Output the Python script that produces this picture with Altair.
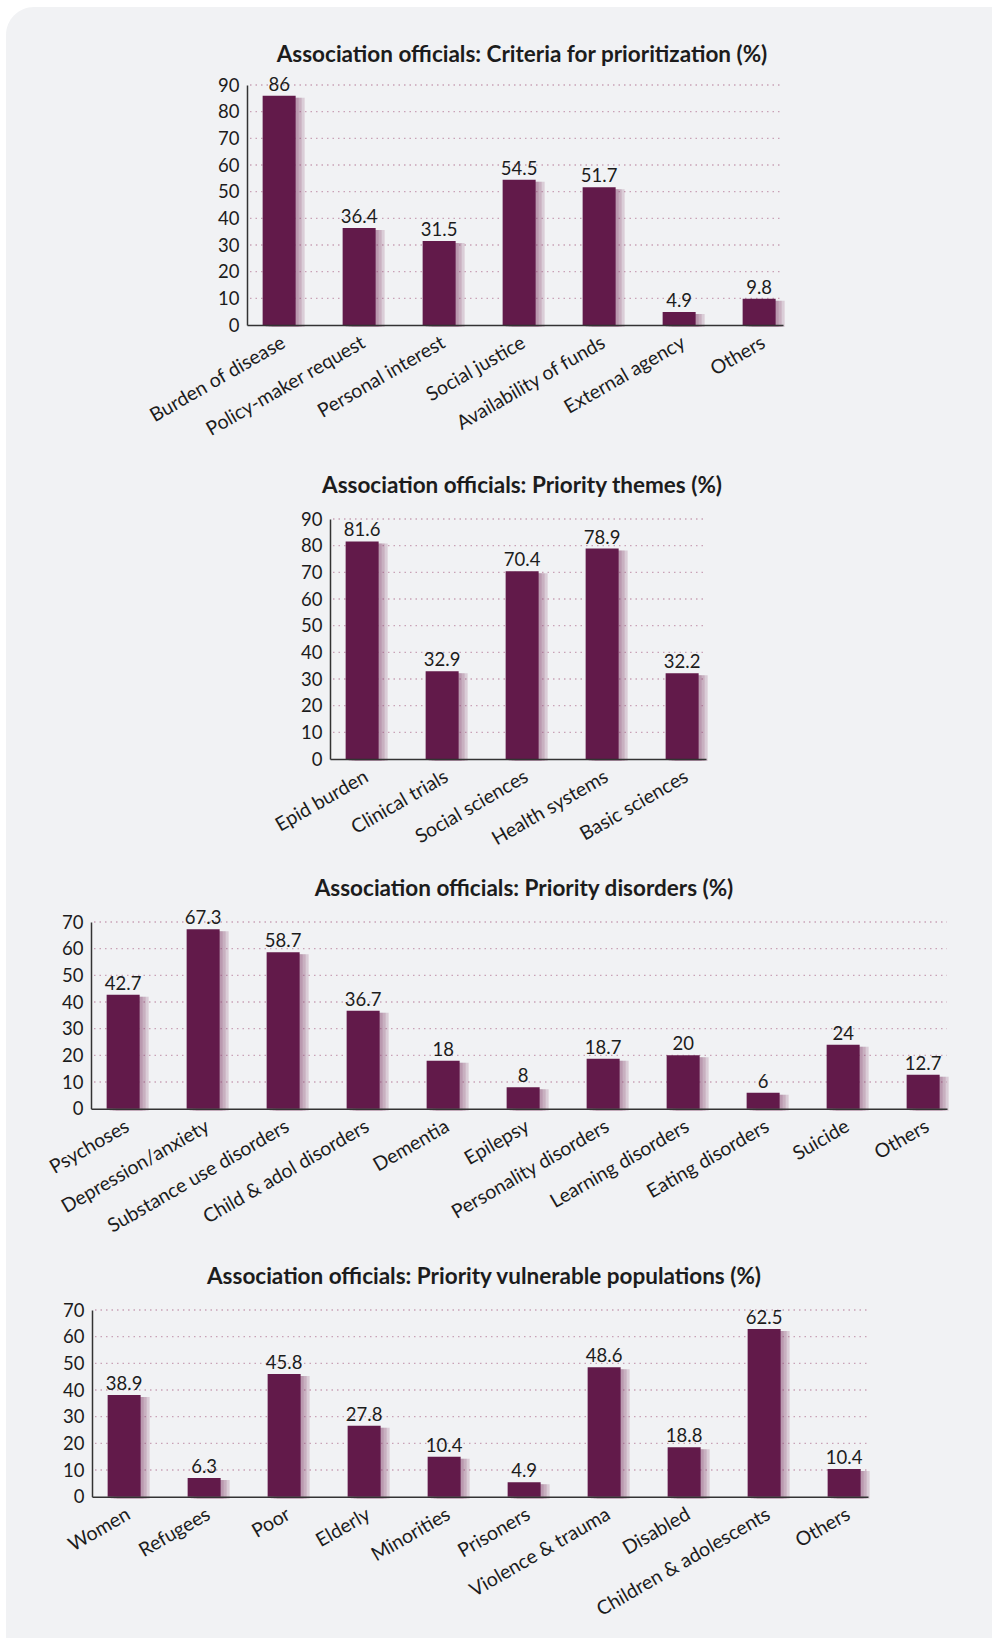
import altair as alt
import pandas as pd

# ---------------- data ----------------
crit_cats = ["Burden of disease", "Policy-maker request", "Personal interest", "Social justice",
             "Availability of funds", "External agency", "Others"]
crit_vals = [86, 36.4, 31.5, 54.5, 51.7, 4.9, 9.8]

theme_cats = ["Epid burden", "Clinical trials", "Social sciences", "Health systems", "Basic sciences"]
theme_vals = [81.6, 32.9, 70.4, 78.9, 32.2]

dis_cats = ["Psychoses", "Depression/anxiety", "Substance use disorders", "Child & adol disorders",
            "Dementia", "Epilepsy", "Personality disorders", "Learning disorders",
            "Eating disorders", "Suicide", "Others"]
dis_vals = [42.7, 67.3, 58.7, 36.7, 18, 8, 18.7, 20, 6, 24, 12.7]

pop_cats = ["Women", "Refugees", "Poor", "Elderly", "Minorities", "Prisoners",
            "Violence & trauma", "Disabled", "Children & adolescents", "Others"]
pop_labels = [38.9, 6.3, 45.8, 27.8, 10.4, 4.9, 48.6, 18.8, 62.5, 10.4]
# bar heights as drawn in the original figure (some differ from the printed labels)
pop_bars = [38.1, 7.0, 46.0, 26.6, 15.0, 5.4, 48.5, 18.5, 62.9, 10.4]

titles = ["Association officials: Criteria for prioritization (%)",
          "Association officials: Priority themes (%)",
          "Association officials: Priority disorders (%)",
          "Association officials: Priority vulnerable populations (%)"]

ticks_90 = [0, 10, 20, 30, 40, 50, 60, 70, 80, 90]
ticks_70 = [0, 10, 20, 30, 40, 50, 60, 70]

# ---------------- style ----------------
FONT = "Lato"
BAR = "#621a4a"
SHADOW = "#8a4a72"
GRID = "#c9a2b6"
AXIS = "#333333"
TEXT = "#1c1c1c"
BG = "#f1f2f4"
PX = 240 / 90.0      # pixels per percentage point
X0 = 20              # page x of every panel origin
W = 940


def panel(title, cats, bars, labels, ticks, left, right, top, next_top, title_cx, title_dy, card=False):
    ymax = ticks[-1]
    plot_h = ymax * PX
    height = next_top - top
    L = left - X0
    R = right - X0
    df = pd.DataFrame({"cat": cats, "bar": bars,
                       "label": [f"{v:g}" for v in labels]})
    xscale = alt.Scale(domain=cats, range=[L, R], paddingInner=0.5875,
                       paddingOuter=0.14375, align=0.68)
    yscale = alt.Scale(domain=[0, ymax], range=[plot_h, 0], nice=False, zero=True)
    xaxis = alt.Axis(title=None, labelAngle=330, labelAlign="right", labelBaseline="top",
                     labelPadding=8, labelFontSize=19.5, labelColor=TEXT, labelFont=FONT,
                     ticks=False, domainColor=AXIS, domainWidth=1.5, grid=False,
                     offset=plot_h - height, zindex=1, labelOverlap=False, labelLimit=400)
    yaxis = alt.Axis(title=None, values=ticks, labelFontSize=18.5, labelColor=TEXT, labelFont=FONT,
                     ticks=False, domainColor=AXIS, domainWidth=1.5, grid=False,
                     offset=-L, labelPadding=8, zindex=1, labelFlush=False)
    X = alt.X("cat:N", scale=xscale, sort=cats, axis=xaxis)

    layers = []
    if card:
        layers.append(
            alt.Chart(pd.DataFrame({"c": [0]})).mark_rect(color=BG, cornerRadiusTopLeft=28).encode(
                x=alt.value(6 - X0), x2=alt.value(992 - X0),
                y=alt.value(7 - top), y2=alt.value(1638 - top)))
    grid_df = pd.DataFrame({"t": ticks[1:]})
    layers.append(
        alt.Chart(grid_df).mark_rule(color=GRID, strokeDash=[1.5, 4], strokeWidth=1.3).encode(
            y=alt.Y("t:Q", scale=yscale, axis=yaxis),
            x=alt.value(L + 3), x2=alt.value(R)))
    for off in (3, 6, 9):
        layers.append(
            alt.Chart(df).mark_bar(color=SHADOW, opacity=0.22, xOffset=off, yOffset=2).encode(
                x=X, y=alt.Y("bar:Q", scale=yscale, axis=yaxis)))
    layers.append(
        alt.Chart(df).mark_bar(color=BAR).encode(
            x=X, y=alt.Y("bar:Q", scale=yscale, axis=yaxis)))
    layers.append(
        alt.Chart(df).mark_text(baseline="alphabetic", dy=-5, fontSize=18.5, font=FONT, color=TEXT).encode(
            x=X, y=alt.Y("bar:Q", scale=yscale, axis=yaxis), text="label:N"))
    layers.append(
        alt.Chart(pd.DataFrame({"t": [title]})).mark_text(
            align="center", baseline="alphabetic", fontSize=22.5, fontWeight="bold",
            font=FONT, color=TEXT).encode(
            x=alt.value(title_cx - X0), y=alt.value(title_dy), text="t:N"))
    return alt.layer(*layers).properties(width=W, height=height)


p1 = panel(titles[0], crit_cats, crit_vals, crit_vals, ticks_90, 247, 783, 85, 519, 522, -23, card=True)
p2 = panel(titles[1], theme_cats, theme_vals, theme_vals, ticks_90, 330, 706, 519, 922, 522, -26)
p3 = panel(titles[2], dis_cats, dis_vals, dis_vals, ticks_70, 91, 947, 922, 1310, 524, -26)
p4 = panel(titles[3], pop_cats, pop_bars, pop_labels, ticks_70, 92, 868, 1310, 1310 + 70 * PX, 484, -26)

chart = alt.vconcat(p1, p2, p3, p4, spacing=0, bounds="flush").properties(
    padding={"left": 6, "top": 7, "right": 0, "bottom": 0},
    background="white",
).configure_view(strokeWidth=0).configure_text(font=FONT)

chart.save("out.html", embed_options={"renderer": "svg", "actions": False})
